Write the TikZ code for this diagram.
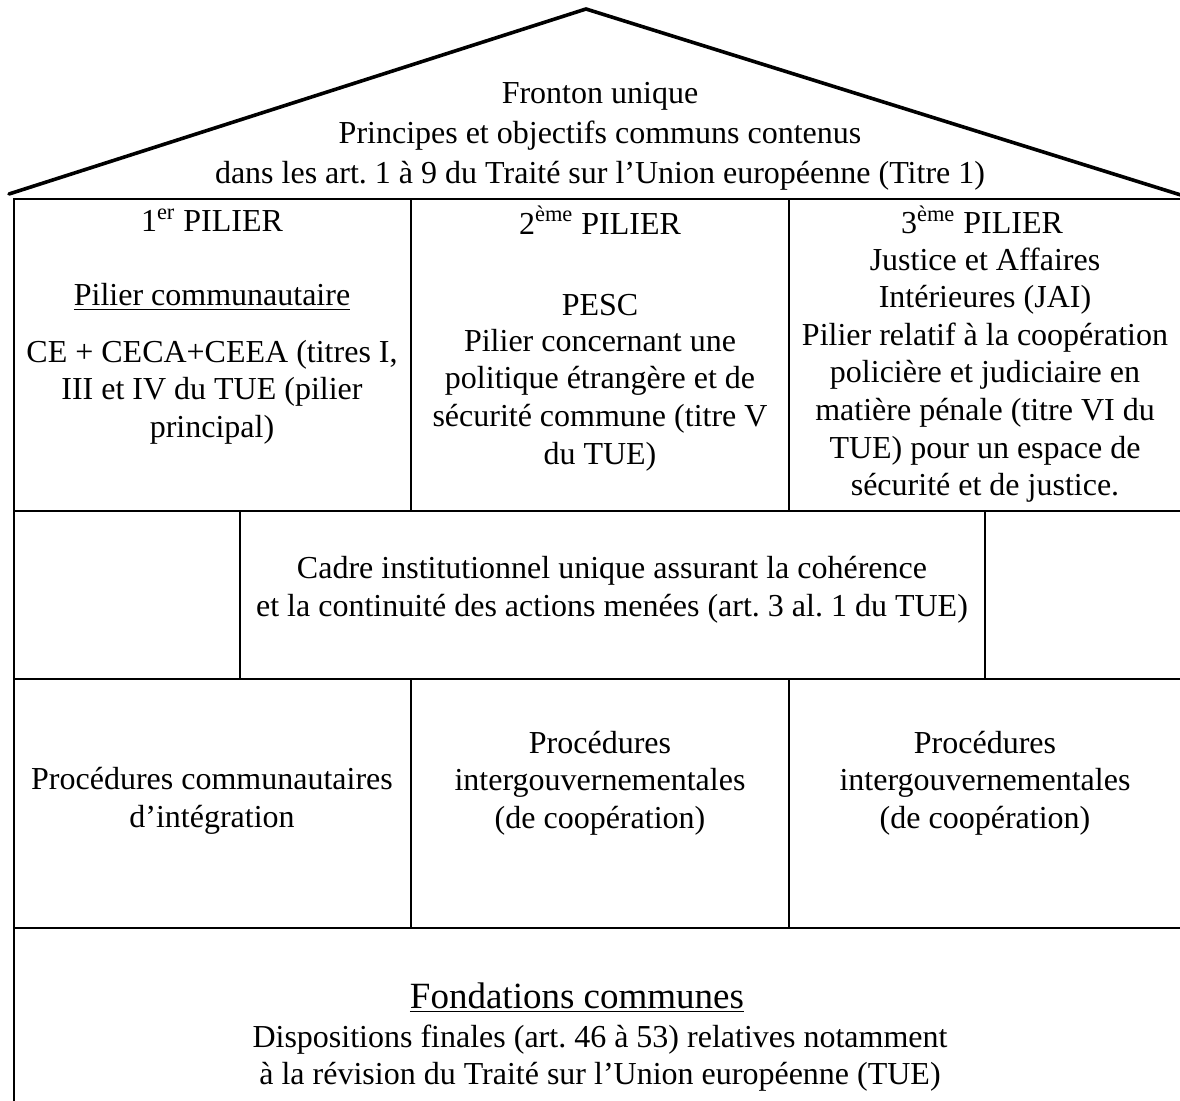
\documentclass[tikz,border=0pt]{standalone}
\usepackage{fontspec}
\setmainfont{Liberation Serif}
\begin{document}
\begin{tikzpicture}[x=0.5pt,y=-0.5pt,
  txt/.style={font=\fontsize{16}{18.8}\selectfont, align=center, inner sep=0pt},
  rooftxt/.style={font=\fontsize{16}{20}\selectfont, align=center, inner sep=0pt},
  bigtxt/.style={font=\fontsize{18.5}{22}\selectfont, align=center, inner sep=0pt},
  ln/.style={line width=1.2pt, line cap=rect},
  roofline/.style={line width=1.8pt, line join=miter, line cap=round}]
\useasboundingbox (0,0) rectangle (1180,1101);
\clip (0,0) rectangle (1180,1101);
% roof
\coordinate (rl) at (9,194);
\coordinate (apex) at (586,9);
\coordinate (rr) at (1200,201);
\draw[roofline] (rl) -- (apex) -- (rr);
% table frame
\coordinate (tl) at (14,199);
\coordinate (tr) at (1200,199);
\coordinate (bl) at (14,1110);
\draw[ln] (bl) -- (tl) -- (tr);
\draw[ln] (14,511) -- (1200,511);
\draw[ln] (14,679) -- (1200,679);
\draw[ln] (14,928) -- (1200,928);
\draw[ln] (411,199) -- (411,511);
\draw[ln] (789,199) -- (789,511);
\draw[ln] (240,511) -- (240,679);
\draw[ln] (985,511) -- (985,679);
\draw[ln] (411,679) -- (411,928);
\draw[ln] (789,679) -- (789,928);
% roof text
\node[rooftxt] (fronton) at (600,136) {Fronton unique\\Principes et objectifs communs contenus\\dans les art.~1 à 9 du Traité sur l’Union européenne (Titre 1)};
% pillar 1
\node[txt] (p1h) at (212,220) {1\textsuperscript{er} PILIER};
\node[txt] (p1s) at (212,297) {\underline{Pilier communautaire}};
\node[txt] (p1t) at (212,392) {CE + CECA+CEEA (titres I,\\III et IV du TUE (pilier\\principal)};
% pillar 2
\node[txt] (p2h) at (600,220) {2\textsuperscript{ème} PILIER};
\node[txt] (p2s) at (600,305) {PESC};
\node[txt] (p2t) at (600,400) {Pilier concernant une\\politique étrangère et de\\sécurité commune (titre V\\du TUE)};
% pillar 3
\node[txt] (p3h) at (982,220) {3\textsuperscript{ème} PILIER};
\node[txt] (p3t) at (985,375) {Justice et Affaires\\Intérieures (JAI)\\Pilier relatif à la coopération\\policière et judiciaire en\\matière pénale (titre VI du\\TUE) pour un espace de\\sécurité et de justice.};
% middle row
\node[txt] (cadre) at (612,590) {Cadre institutionnel unique assurant la cohérence\\et la continuité des actions menées (art.~3 al.~1 du TUE)};
% procedures
\node[txt] (proc1) at (212,801) {Procédures communautaires\\d’intégration};
\node[txt] (proc2) at (600,783) {Procédures\\intergouvernementales\\(de coopération)};
\node[txt] (proc3) at (985,783) {Procédures\\intergouvernementales\\(de coopération)};
% foundations
\node[bigtxt] (fond) at (577,998) {\underline{Fondations communes}};
\node[txt] (disp) at (600,1058) {Dispositions finales (art.~46 à 53) relatives notamment\\à la révision du Traité sur l’Union européenne (TUE)};
\end{tikzpicture}
\end{document}
